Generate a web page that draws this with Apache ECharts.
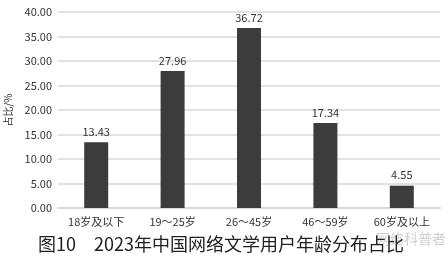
<!DOCTYPE html>
<html><head><meta charset="utf-8">
<script src="https://cdn.jsdelivr.net/npm/echarts@6/dist/echarts.min.js"></script>
<style>html,body{margin:0;padding:0;background:#fff}#c{width:448px;height:263px}</style>
</head><body><div id="c"></div>
<script>
const categories = ['18岁及以下','19～25岁','26～45岁','46～59岁','60岁及以上'];
const values = [13.43, 27.96, 36.72, 17.34, 4.55];
const yTicks = [0, 5, 10, 15, 20, 25, 30, 35, 40];
const titleText = '图10　2023年中国网络文学用户年龄分布占比';
const yName = '占比/%';
const font = '"Noto Sans CJK SC","Noto Sans",sans-serif';
const chart = echarts.init(document.getElementById('c'), null, {renderer:'canvas'});
chart.setOption({
  animation:false,
  title:{text:titleText, left:33, top:230, textStyle:{fontSize:18, fontWeight:'normal', color:'#222', fontFamily:font}},
  graphic:[{type:'text', right:2, top:232, style:{text:'网络科普者', fontSize:14, fill:'rgba(150,150,150,0.45)', fontFamily:font}}],
  grid:{left:58, right:8, top:12, bottom:55, outerBoundsMode:'none', containLabel:false},
  xAxis:{type:'category', data:categories,
    axisLine:{lineStyle:{color:'#d9d9d9', width:2}}, axisTick:{show:false},
    axisLabel:{color:'#333', fontSize:11, margin:8, fontFamily:font}},
  yAxis:{type:'value', min:yTicks[0], max:yTicks[yTicks.length-1], interval:5,
    name:yName, nameLocation:'middle', nameGap:42, nameRotate:90,
    nameTextStyle:{color:'#333', fontSize:10, fontFamily:font},
    axisLabel:{color:'#333', fontSize:11, margin:6, fontFamily:font, formatter:v=>v.toFixed(2)},
    axisLine:{show:false}, axisTick:{show:false},
    splitLine:{lineStyle:{color:'#d9d9d9', width:1.5}}},
  series:[{type:'bar', data:values, barWidth:24, itemStyle:{color:'#3c3c3c'},
    label:{show:true, position:'top', distance:5, color:'#333', fontSize:11, fontFamily:font, formatter:p=>p.value.toFixed(2)}}]
});
</script></body></html>
